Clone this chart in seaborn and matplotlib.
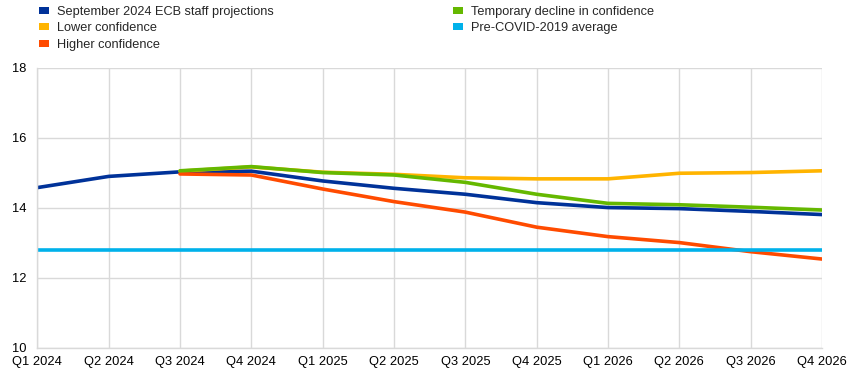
import pandas as pd
import seaborn as sns
import numpy as np
import matplotlib.pyplot as plt
from matplotlib.patches import Patch

quarters = ["Q1 2024", "Q2 2024", "Q3 2024", "Q4 2024",
            "Q1 2025", "Q2 2025", "Q3 2025", "Q4 2025",
            "Q1 2026", "Q2 2026", "Q3 2026", "Q4 2026"]
nan = np.nan
ecb_sept = [14.58, 14.90, 15.03, 15.05, 14.77, 14.56, 14.39, 14.15, 14.01, 13.98, 13.90, 13.81]
lower_conf = [nan, nan, 15.05, 15.17, 15.02, 14.96, 14.86, 14.83, 14.83, 14.99, 15.01, 15.06]
higher_conf = [nan, nan, 14.97, 14.94, 14.54, 14.18, 13.88, 13.45, 13.18, 13.01, 12.75, 12.54]
temp_decline = [nan, nan, 15.06, 15.18, 15.01, 14.94, 14.73, 14.39, 14.13, 14.09, 14.02, 13.94]
pre_covid = [12.79] * 12

names = ["September 2024 ECB staff projections", "Lower confidence", "Higher confidence",
         "Temporary decline in confidence", "Pre-COVID-2019 average"]
colors = ["#003299", "#FFB400", "#FF4B00", "#65B800", "#00B1EA"]

frames = []
for name, vals in zip(names, [ecb_sept, lower_conf, higher_conf, temp_decline, pre_covid]):
    frames.append(pd.DataFrame({"x": np.arange(len(quarters)), "value": vals, "series": name}))
df = pd.concat(frames).dropna()

sns.set_style("white")
plt.rcParams["font.family"] = ["Liberation Sans", "DejaVu Sans"]

fig = plt.figure(figsize=(8.68, 3.77), dpi=100)
ax = fig.add_axes([0.043, 0.077, 0.904, 0.743])
sns.lineplot(data=df, x="x", y="value", hue="series", hue_order=names,
             palette=dict(zip(names, colors)), linewidth=2.6, ax=ax, legend=False)

ax.set_xlim(0, len(quarters) - 1)
ax.set_ylim(10, 18)
ax.set_yticks([10, 12, 14, 16, 18])
ax.set_xticks(np.arange(len(quarters)))
ax.set_xticklabels(quarters)
ax.tick_params(axis="both", length=0, labelsize=9.3, colors="black")
ax.tick_params(axis="x", pad=6)
ax.tick_params(axis="y", pad=8)
ax.set_xlabel("")
ax.set_ylabel("")
ax.grid(True, color="#d9d9d9", linewidth=1)
ax.set_axisbelow(True)
for side in ["top", "right"]:
    ax.spines[side].set_visible(False)
for side in ["left", "bottom"]:
    ax.spines[side].set_color("#d9d9d9")
    ax.spines[side].set_linewidth(1)

handles = [Patch(facecolor=c, edgecolor="none") for c in colors]
fig.legend(handles, names, ncol=2, loc="upper left", bbox_to_anchor=(0.032, 1.015),
           frameon=False, fontsize=9.2, handlelength=0.75, handleheight=0.5,
           handletextpad=0.6, columnspacing=14.1, labelspacing=0.35)

fig.savefig("out.png", dpi=100)
